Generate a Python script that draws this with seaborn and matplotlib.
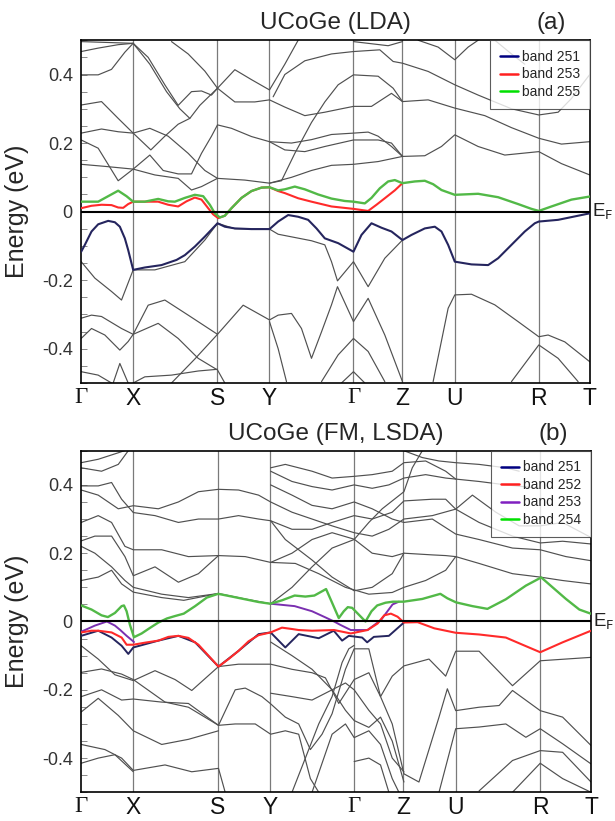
import numpy as np
import pandas as pd
import matplotlib
matplotlib.use("Agg")
import matplotlib.pyplot as plt
from matplotlib.lines import Line2D
import seaborn as sns

# ---------------- data ----------------
KPOINT_LABELS = ["Γ", "X", "S", "Y", "Γ", "Z", "U", "R", "T"]
KPOINT_POS = [9, 165, 418, 574, 826, 973, 1130, 1382, 1535]

# ---- panel (a) coloured bands: (k, E[eV])
A_BAND251 = [(9,-.117),(20,-.097),(40,-.058),(60,-.037),(90,-.027),(110,-.031),(125,-.044),(140,-.078),
             (150,-.112),(165,-.170),(200,-.163),(250,-.156),(295,-.141),(320,-.127),(350,-.102),(380,-.073),
             (418,-.034),(440,-.044),(470,-.049),(520,-.051),(574,-.051),(600,-.029),(630,-.010),(660,-.015),
             (690,-.024),(715,-.049),(740,-.078),(780,-.092),(826,-.117),(850,-.068),(880,-.034),(910,-.047),
             (940,-.058),(973,-.083),(1000,-.068),(1040,-.049),(1070,-.044),(1090,-.058),(1110,-.097),
             (1130,-.146),(1180,-.154),(1230,-.156),(1260,-.136),(1300,-.097),(1340,-.058),(1370,-.034),
             (1382,-.029),(1440,-.024),(1500,-.012),(1535,-.005)]
A_BAND253 = [(9,.010),(40,.017),(70,.020),(100,.019),(120,.012),(135,.011),(150,.022),(165,.029),(240,.029),
             (270,.020),(300,.015),(325,.030),(350,.041),(370,.035),(390,.010),(405,-.008),(420,-.019),
             (440,-.012),(460,.010),(490,.040),(520,.060),(550,.070),(574,.071),(600,.060),(620,.054),
             (660,.039),(700,.029),(760,.015),(826,.008),(870,.002),(895,.020),(920,.039),(950,.062),(973,.083)]
A_BAND255 = [(9,.029),(60,.029),(90,.045),(120,.061),(145,.045),(165,.029),(200,.029),(240,.037),(270,.030),
             (290,.029),(320,.040),(350,.049),(375,.045),(395,.020),(410,-.005),(425,-.017),(440,-.012),
             (460,.010),(490,.040),(520,.060),(550,.070),(574,.071),(600,.062),(620,.065),(650,.073),(680,.065),
             (720,.050),(760,.038),(800,.031),(826,.029),(860,.024),(880,.040),(905,.068),(930,.088),(950,.092),
             (973,.083),(1010,.088),(1040,.090),(1065,.080),(1090,.063),(1130,.049),(1200,.052),(1260,.042),
             (1320,.022),(1360,.008),(1382,.002),(1420,.015),(1480,.035),(1535,.044)]

# ---- panel (a) other bands
A_G01 = [(9,.496),(165,.491)]
A_G02 = [(9,.467),(60,.477),(120,.487),(165,.491)]
A_G03 = [(9,.399),(60,.399),(100,.415),(140,.465),(165,.491)]
A_G04 = [(9,.311),(70,.321),(120,.272),(165,.229),(218,.180),(260,.220),(300,.255),(335,.272)]
A_G05 = [(9,.229),(70,.241),(120,.233),(165,.229),(215,.243),(270,.220),(330,.170),(380,.120),(418,.097),
         (500,.092),(574,.083),(610,.090),(650,.170),(700,.260),(740,.320),(780,.370),(826,.399),(900,.395),
         (945,.360),(973,.321)]
A_G06 = [(9,.209),(60,.185),(120,.090),(165,.124),(215,.165),(255,.120),(300,.110),(340,.110),(370,.170),
         (400,.220),(418,.253),(460,.243),(520,.219),(574,.204),(640,.200),(700,.210),(760,.225),(826,.229),
         (870,.232),(900,.220),(940,.190),(973,.161)]
A_G07 = [(9,.138),(80,.132),(165,.124),(230,.107),(300,.097),(340,.063),(370,.073),(418,.097)]
A_G08 = [(165,.491),(215,.430),(265,.350),(305,.300),(335,.272),(365,.310),(418,.360)]
A_G09 = [(165,.491),(210,.450),(260,.370),(300,.310),(340,.350),(370,.352),(400,.340),(418,.360),(470,.414),
         (520,.385),(574,.355),(620,.430),(660,.500)]
A_G10 = [(280,.496),(330,.460),(380,.410),(418,.360),(470,.320),(530,.320),(574,.326),(620,.305),(680,.280),
         (740,.290),(790,.300),(826,.307),(880,.307),(940,.345),(973,.321),(1050,.326),(1130,.302),(1220,.280),
         (1300,.245),(1382,.214),(1450,.197),(1535,.204)]
A_G11 = [(585,.335),(620,.400),(680,.440),(760,.460),(826,.467),(905,.472),(945,.438),(973,.433),(1050,.409),
         (1130,.370),(1200,.340),(1300,.300),(1382,.282),(1440,.290),(1480,.330),(1535,.400)]
A_G12 = [(574,.204),(620,.180),(680,.175),(740,.190),(826,.209),(900,.209),(940,.200),(973,.161)]
A_G13 = [(574,.083),(640,.100),(700,.120),(760,.135),(826,.138),(900,.146),(973,.161),(1040,.163),(1090,.190),
         (1130,.224),(1200,.190),(1280,.165),(1382,.175),(1450,.140),(1535,.107)]
A_G14 = [(1020,.500),(1080,.480),(1130,.443),(1170,.480),(1200,.500)]
A_G15 = [(1250,.500),(1300,.460),(1340,.430)]
A_G16 = [(826,.496),(930,.484),(973,.496)]
A_G17 = [(9,-.146),(50,-.194),(100,-.233),(130,-.258),(165,-.170),(230,-.170),(320,-.146),(380,-.083),
         (418,-.034),(470,-.050),(574,-.051),(600,-.066),(700,-.085),(740,-.097),(760,-.146),(778,-.202),
         (826,-.146),(870,-.219),(920,-.136),(973,-.083)]
A_G18 = [(9,-.311),(40,-.302),(70,-.306),(130,-.341),(165,-.358),(210,-.273),(260,-.258),(330,-.302),
         (418,-.358),(495,-.273),(574,-.316),(600,-.302),(640,-.297),(670,-.341),(700,-.428),(730,-.351),
         (760,-.272),(778,-.219),(826,-.321),(870,-.253),(920,-.360),(973,-.496)]
A_G19 = [(9,-.370),(40,-.341),(80,-.360),(125,-.404),(150,-.379),(165,-.358),(240,-.326),(300,-.370),
         (360,-.428),(418,-.462),(440,-.500)]
A_G20 = [(280,-.500),(350,-.430),(418,-.358)]
A_G21 = [(9,-.467),(60,-.477),(100,-.500)]
A_G22 = [(105,-.500),(125,-.443),(150,-.500)]
A_G23 = [(165,-.500),(200,-.482),(280,-.477),(360,-.465),(418,-.460)]
A_G24 = [(574,-.321),(600,-.400),(625,-.496)]
A_G25 = [(730,-.496),(780,-.418),(826,-.370),(870,-.408),(920,-.496)]
A_G26 = [(790,-.500),(826,-.467),(860,-.500)]
A_G27 = [(1065,-.496),(1110,-.282),(1130,-.243),(1180,-.241),(1250,-.272),(1320,-.321),(1382,-.365),
         (1410,-.360),(1460,-.380),(1535,-.438)]
A_G28 = [(1300,-.496),(1382,-.389),(1440,-.428),(1500,-.496)]

# ---- panel (b) coloured bands
B_BAND251 = [(9,-.042),(60,-.027),(100,-.047),(130,-.071),(150,-.095),(165,-.076),(240,-.056),(300,-.042),
             (350,-.061),(420,-.132),(480,-.086),(540,-.037),(576,-.032),(620,-.076),(660,-.037),(720,-.049),
             (765,-.027),(790,-.056),(810,-.042),(850,-.047),(865,-.061),(885,-.045),(930,-.042),(975,-.003)]
B_BAND252 = [(9,-.032),(40,-.027),(60,-.027),(100,-.032),(130,-.047),(145,-.068),(165,-.068),(200,-.062),
             (240,-.056),(270,-.045),(300,-.042),(330,-.048),(360,-.068),(390,-.100),(420,-.132),(450,-.110),
             (480,-.086),(510,-.058),(540,-.040),(576,-.032),(610,-.018),(640,-.022),(660,-.025),(700,-.027),
             (766,-.025),(816,-.035),(866,-.025),(896,-.006),(916,.018),(936,.023),(956,.014),(975,-.003),
             (1016,-.002),(1066,-.020),(1130,-.033),(1200,-.038),(1280,-.047),(1330,-.068),(1383,-.090),
             (1450,-.061),(1535,-.027)]
B_BAND253 = [(9,-.030),(50,-.012),(86,.000),(110,-.012),(126,-.025),(145,-.042),(161,-.055),(167,-.060)]
B_BAND253_2 = [(576,.052),(648,.045),(700,.030),(740,.012),(766,.000),(785,-.010),(816,-.025),(866,-.025),
               (906,.004),(941,.050),(960,.058)]
B_BAND254 = [(9,.047),(40,.035),(70,.018),(89,.013),(110,.025),(130,.045),(137,.047),(145,.030),(155,-.010),
             (167,-.046),(190,-.035),(213,-.020),(240,-.003),(266,.009),(290,.016),(316,.023),(350,.045),
             (385,.070),(419,.081),(460,.073),(495,.066),(540,.057),(575,.052),(610,.062),(648,.076),(680,.073),
             (707,.076),(742,.095),(760,.055),(780,.010),(795,.030),(807,.042),(820,.040),(840,.020),(860,.000),
             (878,.030),(895,.047),(920,.055),(942,.058),(974,.058),(1030,.066),(1084,.081),(1105,.068),
             (1131,.056),(1180,.045),(1225,.037),(1280,.065),(1340,.105),(1386,.129),(1420,.100),(1460,.066),
             (1500,.035),(1537,.022)]

# ---- panel (b) other bands
B_G01 = [(9,.465),(60,.475),(120,.494),(150,.504)]
B_G02 = [(9,.450),(70,.440),(120,.460),(150,.500)]
B_G03 = [(9,.397),(60,.397),(100,.407),(130,.358),(165,.319),(230,.310),(300,.290),(360,.300),(420,.300),
         (480,.310),(540,.300),(576,.295),(640,.270),(700,.270),(760,.290),(826,.310),(880,.300),(940,.320),
         (975,.353),(1060,.358),(1100,.358),(1130,.329),(1200,.290),(1300,.250),(1383,.230),(1450,.235),(1535,.227)]
B_G04 = [(9,.385),(60,.370),(120,.330),(165,.339),(240,.330),(300,.350),(360,.380),(420,.387),(480,.385),
         (540,.370),(576,.350),(640,.320),(700,.300),(760,.280),(826,.260),(880,.250),(930,.270),(975,.300),
         (1060,.310),(1130,.329),(1180,.370),(1250,.320),(1320,.280),(1383,.280),(1450,.290),(1535,.246)]
B_G05 = [(9,.290),(60,.310),(100,.290),(140,.220),(165,.210),(250,.210),(330,.190),(420,.193),(500,.190),
         (576,.173),(640,.200),(700,.240),(760,.260),(826,.241),(880,.200),(940,.190),(975,.200),(1060,.195),
         (1100,.193),(1130,.190),(1200,.170),(1300,.140),(1383,.130),(1450,.120),(1535,.110)]
B_G06 = [(9,.236),(50,.250),(100,.250),(140,.190),(165,.134),(230,.160),(300,.115),(360,.140),(420,.193)]
B_G07 = [(9,.220),(50,.200),(100,.160),(140,.120),(165,.100),(250,.080),(330,.070),(420,.082)]
B_G08 = [(9,.120),(60,.130),(100,.150),(130,.110),(165,.086),(250,.070),(316,.062),(420,.082),(500,.066),
         (576,.052)]
B_G09 = [(576,.450),(620,.460),(700,.440),(760,.420),(826,.425),(880,.430),(940,.440),(975,.465),(1040,.470),
         (1100,.440),(1130,.417),(1200,.410),(1280,.400),(1383,.390)]
B_G10 = [(576,.440),(640,.410),(700,.395),(760,.385),(826,.400),(880,.390),(930,.400),(975,.420),(1040,.430),
         (1100,.420),(1130,.417)]
B_G11 = [(576,.400),(640,.370),(700,.340),(760,.330),(826,.350),(880,.330),(940,.300),(975,.290),
         (1060,.300),(1130,.256),(1200,.240),(1300,.215),(1383,.210),(1460,.190),(1535,.178)]
B_G12 = [(576,.052),(640,.100),(700,.160),(760,.215),(826,.240),(870,.290),(910,.330),(975,.380),(1000,.450),
         (1030,.500)]
B_G13 = [(576,.173),(650,.170),(720,.140),(800,.100),(870,.080),(940,.085),(975,.100),(1040,.120),
         (1100,.150),(1130,.190)]
B_G14 = [(576,.295),(620,.240),(700,.180),(760,.130),(826,.090),(880,.100),(940,.140),(975,.200)]
B_G15 = [(975,.500),(1030,.480),(1080,.470),(1130,.465),(1200,.460),(1280,.450),(1320,.440)]
B_G16 = [(9,-.071),(60,-.110),(110,-.156),(165,-.173),(230,-.144),(290,-.170),(340,-.202),(420,-.132),
         (480,-.125),(576,-.125),(640,-.140),(700,-.150),(740,-.165),(780,-.240),(826,-.170),(870,-.150),
         (905,-.220),(940,-.160),(975,-.130),(1050,-.110),(1100,-.160),(1130,-.087),(1200,-.087),(1300,-.188),
         (1383,-.115),(1535,-.105)]
B_G17 = [(9,-.149),(70,-.139),(130,-.154),(165,-.170),(260,-.236),(330,-.251),(420,-.304),(470,-.200),
         (500,-.195),(550,-.220),(576,-.241),(620,-.280),(660,-.300),(695,-.375),(730,-.330),(760,-.270),
         (800,-.140),(826,-.080),(870,-.080),(905,-.220),(940,-.300),(975,-.446),(1020,-.470),(1080,-.280),
         (1105,-.197),(1130,-.261),(1200,-.251),(1260,-.246),(1300,-.202),(1383,-.261),(1450,-.280),(1535,-.363)]
B_G18 = [(9,-.220),(70,-.200),(130,-.230),(165,-.227),(250,-.236),(330,-.240),(420,-.304),(470,-.300),
         (530,-.300),(576,-.330),(620,-.320),(660,-.330),(695,-.460),(720,-.500)]
B_G19 = [(9,-.265),(60,-.225),(120,-.275),(165,-.320),(250,-.360),(330,-.345),(420,-.320)]
B_G20 = [(9,-.360),(80,-.375),(130,-.400),(165,-.436),(260,-.420),(340,-.440),(420,-.430),(440,-.500)]
B_G21 = [(9,-.415),(60,-.400),(110,-.390),(165,-.440)]
B_G22 = [(576,-.210),(640,-.220),(700,-.230),(760,-.200),(800,-.180),(826,-.200),(870,-.260),(905,-.300),
         (940,-.400),(975,-.440)]
B_G23 = [(700,-.500),(760,-.330),(800,-.300),(826,-.340),(870,-.320),(905,-.360),(940,-.460),(960,-.500)]
B_G24 = [(1080,-.500),(1130,-.314),(1200,-.309),(1280,-.300),(1340,-.339),(1383,-.314),(1450,-.358),
         (1535,-.417)]
B_G25 = [(1200,-.496),(1300,-.407),(1383,-.378),(1450,-.383),(1535,-.470)]
B_G26 = [(1300,-.500),(1383,-.415),(1450,-.460),(1535,-.500)]
B_G27 = [(576,-.060),(640,-.100),(700,-.140),(760,-.200),(800,-.260),(826,-.290),(870,-.310),(905,-.280),
         (940,-.350),(975,-.470)]
B_G28 = [(640,-.500),(680,-.400),(720,-.300),(760,-.220),(790,-.120),(810,-.080),(826,-.070)]
B_G29 = [(826,-.410),(870,-.400),(905,-.420),(930,-.500)]

A_GRAY = [A_G01, A_G02, A_G03, A_G04, A_G05, A_G06, A_G07, A_G08, A_G09, A_G10, A_G11, A_G12, A_G13, A_G14,
          A_G15, A_G16, A_G17, A_G18, A_G19, A_G20, A_G21, A_G22, A_G23, A_G24, A_G25, A_G26, A_G27, A_G28]
B_GRAY = [B_G01, B_G02, B_G03, B_G04, B_G05, B_G06, B_G07, B_G08, B_G09, B_G10, B_G11, B_G12, B_G13, B_G14,
          B_G15, B_G16, B_G17, B_G18, B_G19, B_G20, B_G21, B_G22, B_G23, B_G24, B_G25, B_G26, B_G27, B_G28,
          B_G29]

NAVY, RED, GREEN, PURPLE = "#25255e", "#ff2a2a", "#52b947", "#7a2fb0"
LEG_NAVY, LEG_RED, LEG_GREEN, LEG_PURPLE = "#000080", "#ff2020", "#00e000", "#8020c0"

# ---------------- drawing ----------------
sns.set_theme(style="white")
plt.rcParams["font.family"] = ["Liberation Sans", "DejaVu Sans"]

fig = plt.figure(figsize=(6.15, 8.21), dpi=100)
ax_a = fig.add_axes([0.132, 0.5335, 0.827, 0.4175])
ax_b = fig.add_axes([0.132, 0.035, 0.829, 0.416])


def draw_band(ax, pts, color, lw, z):
    df = pd.DataFrame(pts, columns=["k", "E"])
    sns.lineplot(data=df, x="k", y="E", ax=ax, color=color, lw=lw, sort=False, estimator=None, zorder=z)


def style_axes(ax, title, tag, legend_items):
    ax.set_xlim(KPOINT_POS[0], KPOINT_POS[-1])
    ax.set_ylim(-0.5, 0.5)
    for p in KPOINT_POS[1:-1]:
        ax.axvline(p, color="#7a7a7a", lw=0.9, zorder=1)
    ax.axhline(0, color="black", lw=1.5, zorder=6)
    ax.set_xticks(KPOINT_POS)
    ax.set_xticklabels(KPOINT_LABELS, fontsize=16.5)
    for lbl in ax.get_xticklabels():
        if lbl.get_text() == "Γ":
            lbl.set_fontfamily(["Liberation Serif", "DejaVu Serif"])
    ax.tick_params(axis="x", length=0, pad=3, colors="#111111")
    ax.set_yticks([-0.4, -0.2, 0, 0.2, 0.4])
    ax.set_yticklabels(["-0.4", "-0.2", "0", "0.2", "0.4"], fontsize=13, color="#333333")
    ax.set_yticks(np.arange(-0.5, 0.501, 0.05), minor=True)
    ax.tick_params(axis="y", which="both", direction="in", length=4, width=0.6, color="#777777",
                   left=True, right=False, pad=6)
    ax.set_xlabel("")
    ax.set_ylabel("Energy (eV)", fontsize=18, labelpad=9)
    for s in ax.spines.values():
        s.set_color("black")
        s.set_linewidth(1.2)
    ax.set_title(title, fontsize=17.5, pad=8)
    ax.annotate(tag, xy=(0.925, 1.0), xycoords="axes fraction", xytext=(0, 8), textcoords="offset points",
                fontsize=17.5, ha="center", va="baseline")
    ax.text(1.004, 0.0, "E$_\\mathrm{F}$", transform=ax.get_yaxis_transform(), fontsize=13.5,
            ha="left", va="center", color="#222222")
    handles = [Line2D([], [], color=c, lw=1.8) for c, _ in legend_items]
    leg = ax.legend(handles, [t for _, t in legend_items], loc="upper right", fontsize=10,
                    frameon=True, fancybox=False, edgecolor="#333333", borderaxespad=0,
                    handlelength=1.3, handletextpad=0.3, labelspacing=0.25, borderpad=0.7)
    leg.get_frame().set_linewidth(0.8)
    leg.set_zorder(10)


for pts in A_GRAY:
    draw_band(ax_a, pts, "#505050", 0.85, 2)
draw_band(ax_a, A_BAND253, RED, 1.5, 4)
draw_band(ax_a, A_BAND255, GREEN, 1.7, 5)
draw_band(ax_a, A_BAND251, NAVY, 1.5, 5)
style_axes(ax_a, "UCoGe (LDA)", "(a)",
           [(LEG_NAVY, "band 251"), (LEG_RED, "band 253"), (LEG_GREEN, "band 255")])

for pts in B_GRAY:
    draw_band(ax_b, pts, "#505050", 0.85, 2)
draw_band(ax_b, B_BAND251, NAVY, 1.4, 3)
draw_band(ax_b, B_BAND253, PURPLE, 1.4, 4)
draw_band(ax_b, B_BAND253_2, PURPLE, 1.4, 4)
draw_band(ax_b, B_BAND254, GREEN, 1.7, 5)
draw_band(ax_b, B_BAND252, RED, 1.5, 5)
style_axes(ax_b, "UCoGe (FM, LSDA)", "(b)",
           [(LEG_NAVY, "band 251"), (LEG_RED, "band 252"), (LEG_PURPLE, "band 253"), (LEG_GREEN, "band 254")])

fig.savefig("out.png", dpi=100)
